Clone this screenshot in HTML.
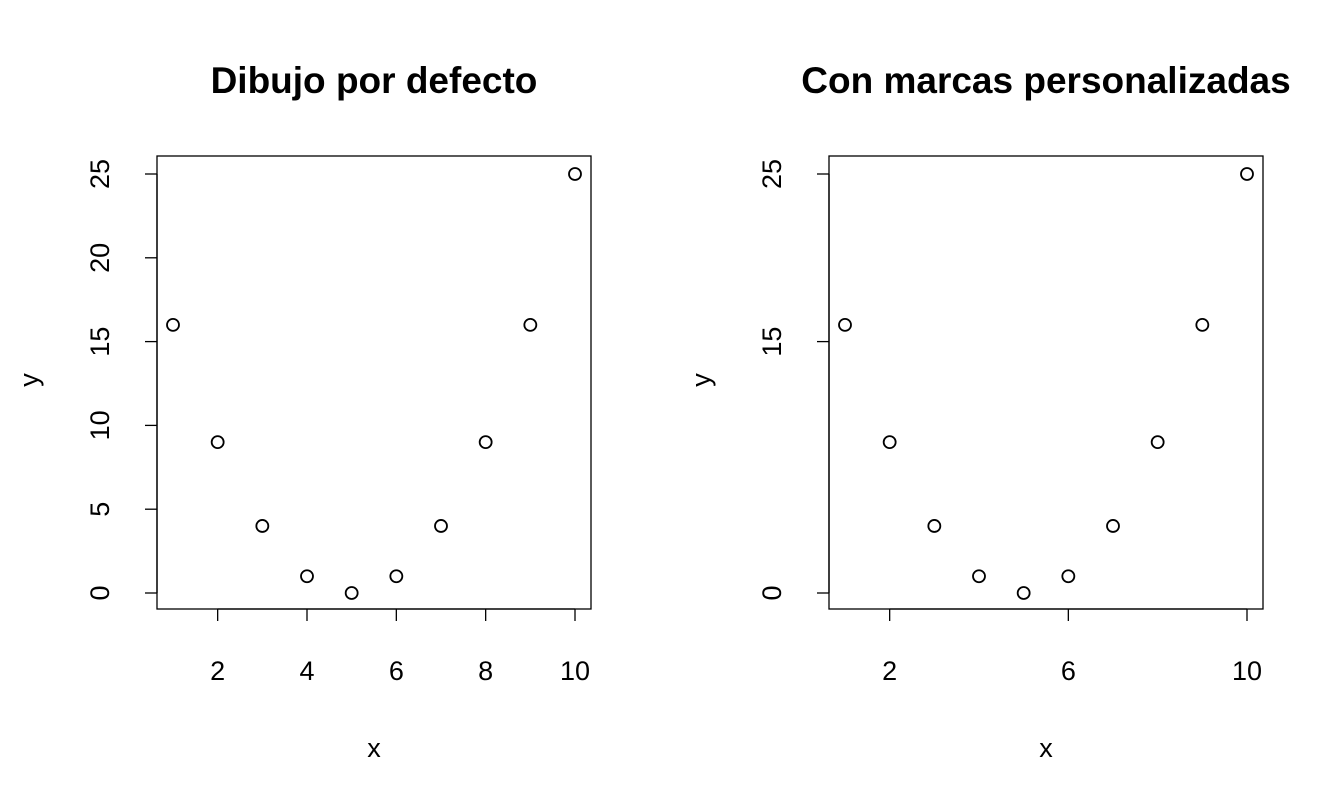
<!DOCTYPE html>
<html><head><meta charset="utf-8"><style>
body{margin:0;background:#fff}
svg{display:block;font-family:"Liberation Sans",Arial,sans-serif}
</style></head><body>
<svg id="c" width="1344" height="806"></svg>
<script>
const xs=[1,2,3,4,5,6,7,8,9,10];
const ys=[16,9,4,1,0,1,4,9,16,25];
const xTicks1=[2,4,6,8,10];
const yTicks1=[0,5,10,15,20,25];
const xTicks2=[2,6,10];
const yTicks2=[0,15,25];
const titles=["Dibujo por defecto","Con marcas personalizadas"];
const svg=document.getElementById('c');
const NS='http://www.w3.org/2000/svg';
function mk(t,a,txt){const e=document.createElementNS(NS,t);for(const k in a)e.setAttribute(k,a[k]);if(txt!==undefined)e.textContent=txt;svg.appendChild(e);return e;}
const panels=[{left:157,xt:xTicks1,yt:yTicks1},{left:829,xt:xTicks2,yt:yTicks2}];
panels.forEach((p,i)=>{
  const L=p.left,R=L+434,T=156,B=609;
  const sx=v=>L+16+(v-1)*(402/9);
  const sy=v=>593-v*(419/25);
  let e=mk('rect',{x:L,y:T,width:R-L,height:B-T,fill:'none',stroke:'#000','stroke-width':1.3});
  
  
  e=mk('text',{x:(L+R)/2,y:93,'text-anchor':'middle','font-size':'37','font-weight':'bold'},titles[i]);
  
  
  mk('line',{x1:sx(p.xt[0]),x2:sx(p.xt[p.xt.length-1]),y1:B,y2:B,stroke:'#000','stroke-width':1.3});
  p.xt.forEach(v=>{
    mk('line',{x1:sx(v),x2:sx(v),y1:B,y2:B+12,stroke:'#000','stroke-width':1.3});
    e=mk('text',{x:sx(v),y:680,'text-anchor':'middle','font-size':'27'},v);
    
    
  });
  mk('line',{x1:L,x2:L,y1:sy(p.yt[0]),y2:sy(p.yt[p.yt.length-1]),stroke:'#000','stroke-width':1.3});
  p.yt.forEach(v=>{
    mk('line',{x1:L,x2:L-12,y1:sy(v),y2:sy(v),stroke:'#000','stroke-width':1.3});
    e=mk('text',{x:L-48,y:sy(v),'text-anchor':'middle','font-size':'27',transform:`rotate(-90 ${L-48} ${sy(v)})`},v);
    
    
  });
  e=mk('text',{x:(L+R)/2,y:757,'text-anchor':'middle','font-size':'27'},'x');
  
  
  const yx=L-119,yy=380;
  e=mk('text',{x:yx,y:yy,'text-anchor':'middle','font-size':'27',transform:`rotate(-90 ${yx} ${yy})`},'y');
  
  
  xs.forEach((x,j)=>{
    e=mk('circle',{cx:sx(x),cy:sy(ys[j]),r:6,fill:'none',stroke:'#000','stroke-width':1.8});
    
    
  });
});
</script>
</body></html>
